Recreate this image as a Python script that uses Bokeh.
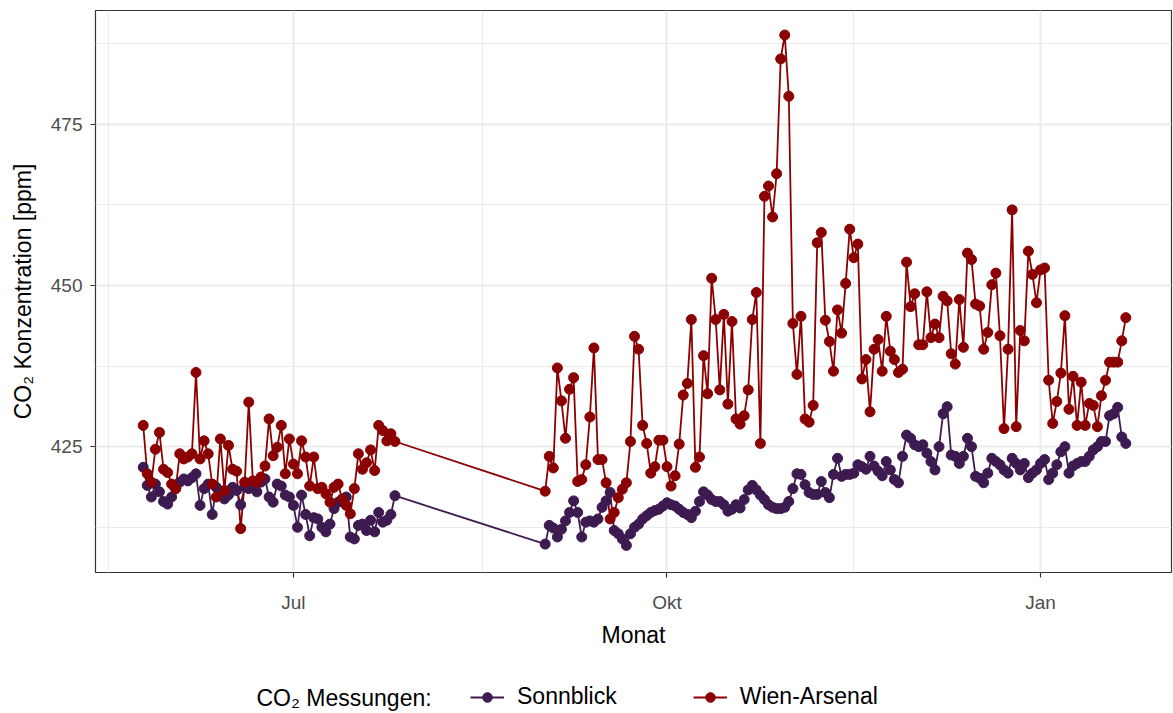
import pandas as pd
from bokeh.plotting import figure
from bokeh.layouts import column
from bokeh.models import (ColumnDataSource, Range1d, FixedTicker, CustomJSTickFormatter,
                          Legend, LegendItem, Label)
from bokeh.embed import file_html
from bokeh.resources import INLINE

# ---------------- data (daily means, ppm) ----------------
seg1_start = "2022-05-25"   # first measuring period
seg2_start = "2022-09-01"   # second measuring period

sonnblick_1 = [
    421.8, 419.0, 417.2, 419.2, 418.0, 416.5, 416.1, 417.2, 418.5, 419.5,
    420.0, 419.7, 420.2, 420.8, 415.9, 418.5, 419.2, 414.5, 418.7, 417.7,
    416.9, 417.5, 418.7, 418.2, 416.0, 418.8, 418.5, 419.0, 418.0, 419.5,
    420.0, 417.2, 416.4, 419.2, 418.9, 417.5, 417.2, 415.9, 412.5, 417.5,
    414.5, 411.2, 414.0, 413.8, 412.5, 411.8, 413.0, 415.4, 416.4, 416.6,
    417.2, 411.0, 410.7, 412.8, 413.0, 412.0, 413.6, 411.8, 414.8, 413.3,
    413.6, 414.5, 417.4]

wien_1 = [
    428.3, 420.8, 419.5, 424.6, 427.2, 421.5, 421.0, 419.2, 418.5, 423.9,
    423.1, 423.4, 423.9, 436.5, 423.1, 425.9, 423.9, 419.2, 417.2, 426.2,
    418.2, 425.2, 421.5, 421.2, 412.3, 419.5, 431.9, 419.7, 419.5, 420.3,
    422.0, 429.3, 423.6, 424.9, 428.3, 420.8, 426.2, 422.3, 420.8, 425.9,
    423.4, 418.9, 423.4, 418.5, 418.7, 417.7, 416.4, 418.7, 419.2, 416.9,
    415.9, 414.6, 418.5, 423.9, 421.5, 422.5, 424.5, 421.3, 428.3, 427.5,
    425.9, 427.0, 425.8]

sonnblick_2 = [
    409.9, 412.8, 412.4, 411.0, 412.2, 413.5, 414.8, 416.6, 414.8, 411.0,
    413.3, 413.5, 413.3, 413.8, 415.6, 416.6, 417.9, 412.0, 411.5, 410.7,
    409.7, 411.5, 412.5, 413.0, 413.8, 414.3, 414.8, 415.1, 415.3, 415.8,
    416.3, 416.0, 415.8, 415.3, 414.8, 414.5, 414.0, 415.0, 416.5, 418.0,
    417.5, 416.8, 416.5, 416.5, 416.0, 415.0, 415.3, 416.0, 415.5, 416.8,
    418.3, 419.0, 418.3, 417.5, 416.8, 416.0, 415.6, 415.4, 415.4, 415.6,
    416.5, 418.5, 420.8, 420.7, 419.1, 417.9, 417.6, 417.6, 419.6, 417.9,
    417.1, 420.7, 423.2, 420.4, 420.7, 420.7, 420.9, 422.2, 421.9, 421.5,
    423.5, 422.0, 421.2, 420.5, 422.7, 421.4, 419.9, 419.4, 423.5, 426.8,
    426.3, 425.3, 425.0, 425.3, 424.0, 422.7, 421.4, 425.0, 430.1, 431.2,
    423.7, 423.5, 422.4, 423.5, 426.3, 425.0, 420.4, 420.1, 419.4, 420.9,
    423.2, 422.7, 422.2, 421.4, 420.9, 423.2, 422.4, 421.4, 422.4, 420.2,
    420.9, 421.4, 422.4, 423.0, 419.9, 420.9, 422.2, 424.2, 425.0, 420.9,
    422.0, 422.4, 422.7, 422.7, 423.5, 424.5, 425.0, 425.8, 425.8, 429.8,
    430.1, 431.1, 426.5, 425.5]

wien_2 = [
    418.1, 423.5, 421.7, 437.2, 432.1, 426.3, 433.9, 435.7, 419.6, 419.9,
    422.2, 429.6, 440.3, 423.0, 423.0, 419.4, 413.8, 414.8, 417.1, 418.4,
    419.4, 425.8, 442.1, 440.1, 428.3, 425.5, 420.9, 421.9, 426.0, 426.0,
    421.9, 418.9, 420.5, 425.4, 433.0, 434.8, 444.7, 421.8, 423.4, 439.1,
    433.2, 451.1, 444.7, 433.8, 445.5, 431.6, 444.4, 429.3, 428.5, 429.8,
    433.8, 444.7, 448.9, 425.5, 463.8, 465.4, 460.6, 467.3, 485.1, 488.8,
    479.3, 444.1, 436.2, 445.2, 429.3, 428.8, 431.4, 456.6, 458.2, 444.6,
    441.3, 436.7, 446.2, 442.6, 450.3, 458.7, 454.3, 456.4, 435.5, 438.5,
    430.4, 440.1, 441.6, 436.7, 445.2, 439.8, 438.5, 436.5, 437.0, 453.6,
    446.7, 448.7, 440.8, 440.8, 449.0, 441.9, 444.0, 441.9, 448.3, 447.6,
    439.4, 437.8, 447.8, 440.4, 455.0, 454.0, 447.1, 446.8, 440.1, 442.7,
    450.1, 451.9, 442.2, 427.8, 440.1, 461.7, 428.1, 443.0, 441.4, 455.3,
    451.7, 447.3, 452.4, 452.7, 435.3, 428.6, 432.0, 436.4, 445.3, 430.8,
    435.9, 428.3, 435.0, 428.3, 431.7, 431.4, 428.1, 432.9, 435.3, 438.1,
    438.1, 438.1, 441.4, 445.0]

series_names = ["Sonnblick", "Wien-Arsenal"]
series_colors = ["#3D1A50", "#8B0000"]
month_names = ["Jan", "Feb", "Mär", "Apr", "Mai", "Jun", "Jul", "Aug", "Sep", "Okt", "Nov", "Dez"]
x_major = ["2022-07-01", "2022-10-01", "2023-01-01"]
x_minor = ["2022-05-16 12:00", "2022-08-16 12:00", "2022-11-16", "2023-02-15"]
y_major = [425, 450, 475]
y_minor = [412.5, 437.5, 462.5, 487.5]

dates = (list(pd.date_range(seg1_start, periods=len(sonnblick_1), freq="D")) +
         list(pd.date_range(seg2_start, periods=len(sonnblick_2), freq="D")))
src = ColumnDataSource(dict(date=dates,
                            sonnblick=sonnblick_1 + sonnblick_2,
                            wien=wien_1 + wien_2))

def ms(s):
    return pd.Timestamp(s).value / 1e6

FONT = "Liberation Sans"
PT_SIZE = 10
LEFT, RIGHT = 95, 2

p = figure(width=1173, height=660, x_axis_type="datetime",
           x_range=Range1d(pd.Timestamp("2022-05-13 06:00"), pd.Timestamp("2023-02-02 06:00")),
           y_range=Range1d(405.5, 492.6),
           toolbar_location=None, output_backend="svg",
           min_border_left=LEFT, min_border_right=RIGHT, min_border_top=10, min_border_bottom=88)
p.outline_line_color = "#333333"
p.outline_line_width = 1.2
p.background_fill_color = "white"
p.border_fill_color = "white"

p.xaxis.ticker = FixedTicker(ticks=[ms(d) for d in x_major], minor_ticks=[ms(d) for d in x_minor])
p.xaxis.formatter = CustomJSTickFormatter(
    args=dict(names=month_names),
    code="return names[new Date(tick).getUTCMonth()];")
p.yaxis.ticker = FixedTicker(ticks=y_major, minor_ticks=y_minor)

for ax in (p.xaxis[0], p.yaxis[0]):
    ax.axis_line_color = None
    ax.major_tick_line_color = "#333333"
    ax.major_tick_line_width = 1.2
    ax.major_tick_in = 0
    ax.major_tick_out = 5
    ax.minor_tick_line_color = None
    ax.major_label_text_font = FONT
    ax.major_label_text_font_size = "19px"
    ax.major_label_text_color = "#4D4D4D"
    ax.axis_label_text_font = FONT
    ax.axis_label_text_font_size = "23px"
    ax.axis_label_text_font_style = "normal"
    ax.axis_label_text_color = "black"

p.xaxis.axis_label = "Monat"
p.yaxis.axis_label = "CO₂ Konzentration [ppm]"
p.xaxis.major_label_standoff = 14
p.xaxis.axis_label_standoff = 6
p.yaxis.major_label_standoff = 8
p.yaxis.axis_label_standoff = 12

for g in (p.xgrid[0], p.ygrid[0]):
    g.grid_line_color = "#EBEBEB"
    g.grid_line_width = 2
    g.minor_grid_line_color = "#EBEBEB"
    g.minor_grid_line_width = 1
p.xgrid.ticker = p.xaxis.ticker
p.ygrid.ticker = p.yaxis.ticker

cols = ["sonnblick", "wien"]
for c, col in zip(cols, series_colors):
    p.line("date", c, source=src, line_color=col, line_width=1.8)
for c, col in zip(cols, series_colors):
    p.scatter("date", c, source=src, marker="circle", size=PT_SIZE,
              fill_color=col, line_color=col)

# ---------------- legend strip (below the plot) ----------------
# frame aligned with the main plot frame: data x == page pixel x
lf = figure(width=1173, height=53, x_range=Range1d(LEFT, 1173 - RIGHT), y_range=Range1d(0, 53),
            x_axis_location=None, y_axis_location=None,
            toolbar_location=None, output_backend="svg",
            min_border_left=LEFT, min_border_right=RIGHT, min_border_top=0, min_border_bottom=0)
lf.grid.visible = False
lf.outline_line_color = None
lf.background_fill_color = "white"
lf.border_fill_color = "white"
# key renderers hold a single point outside the visible range; they only feed the legend
key_src = ColumnDataSource(dict(x=[-500], y=[-500]))
items = []
for name, col in zip(series_names, series_colors):
    rl = lf.line("x", "y", source=key_src, line_color=col, line_width=1.8)
    rp = lf.scatter("x", "y", source=key_src, marker="circle", size=PT_SIZE,
                    fill_color=col, line_color=col)
    items.append(LegendItem(label=name, renderers=[rl, rp]))
legend = Legend(items=items, orientation="horizontal", location=(470 - LEFT, 3),
                glyph_width=34, glyph_height=24, label_standoff=13, spacing=76,
                padding=0, margin=0, border_line_color=None, background_fill_alpha=0,
                label_text_font=FONT, label_text_font_size="23px", label_text_color="black",
                label_height=24)
lf.add_layout(legend, "center")
lf.add_layout(Label(x=256, y=16, text="CO₂ Messungen:", text_baseline="middle",
                    text_font=FONT, text_font_size="23px", text_color="black"))

layout = column(p, lf, spacing=0)
open("out.html", "w").write(file_html(layout, INLINE))
